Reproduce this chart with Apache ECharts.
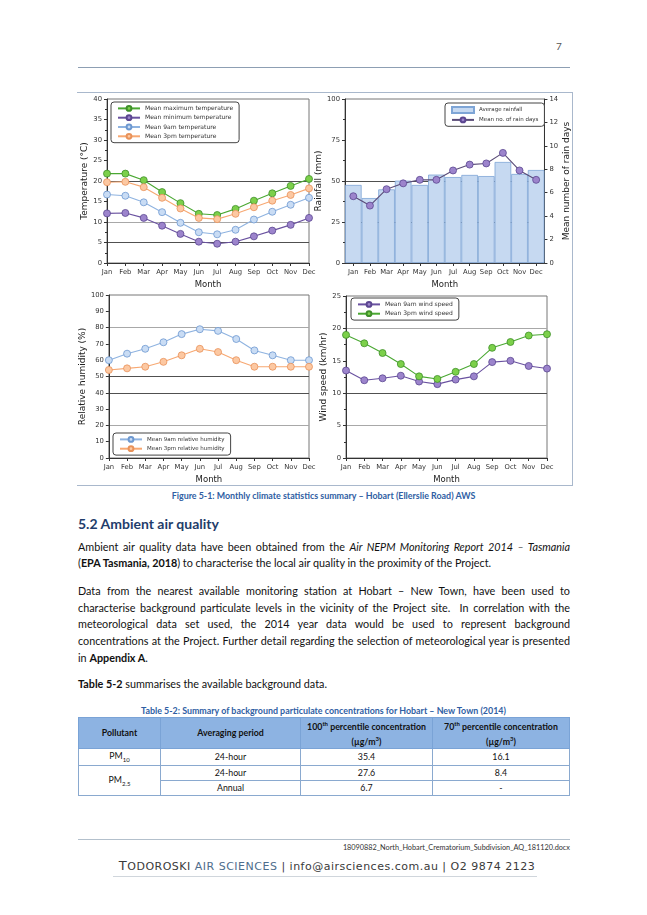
<!DOCTYPE html>
<html><head><meta charset="utf-8">
<script src="https://cdn.jsdelivr.net/npm/echarts@6/dist/echarts.min.js"></script>
<style>
body{margin:0;background:#fff;width:647px;height:915px;position:relative;overflow:hidden;font-family:Lato,"Liberation Sans",sans-serif;color:#111}
.abs{position:absolute}
.ln{position:absolute;left:78px;width:492px;font-size:10.8px;white-space:nowrap;text-align:justify;text-align-last:justify;line-height:14px}
.ln.last{text-align-last:left}
table{border-collapse:collapse;font-size:8.8px;table-layout:fixed;color:#111}
th{background:#8db3e2;font-weight:bold;border:1px solid #7aa3d6;padding:0;line-height:12px}
td{border:1px solid #8aa9cf;text-align:center;padding:0}
sub{font-size:6px}
</style></head><body>
<div class="abs" style="left:556px;top:40px;font-size:10px;color:#555">7</div>
<div class="abs" style="left:78px;top:67px;width:492px;height:1px;background:#8d9fb3"></div>
<div class="abs" style="left:77px;top:92px;width:494px;height:392px;border:1px solid #a9b8cc"></div>
<div id="chart" class="abs" style="left:77px;top:93px;width:495px;height:392px"></div>
<div class="abs" style="left:0;top:490px;width:647px;text-align:center;font-size:8.9px;font-weight:bold;color:#2f5ea3">Figure 5-1: Monthly climate statistics summary – Hobart (Ellerslie Road) AWS</div>
<div class="abs" style="left:78px;top:515px;font-size:14px;font-weight:bold;color:#1f3d6b">5.2 Ambient air quality</div>
<div class="ln" style="top:540px">Ambient air quality data have been obtained from the <i>Air NEPM Monitoring Report 2014 – Tasmania</i></div>
<div class="ln last" style="top:556px">(<b>EPA Tasmania, 2018</b>) to characterise the local air quality in the proximity of the Project.</div>
<div class="ln" style="top:584px">Data from the nearest available monitoring station at Hobart – New Town, have been used to</div>
<div class="ln" style="top:601px">characterise background particulate levels in the vicinity of the Project site.&nbsp; In correlation with the</div>
<div class="ln" style="top:617px">meteorological data set used, the 2014 year data would be used to represent background</div>
<div class="ln" style="top:634px">concentrations at the Project. Further detail regarding the selection of meteorological year is presented</div>
<div class="ln last" style="top:651px">in <b>Appendix A</b>.</div>
<div class="ln last" style="top:677px"><b>Table 5-2</b> summarises the available background data.</div>
<div class="abs" style="left:0;top:705px;width:647px;text-align:center;font-size:8.9px;font-weight:bold;color:#2f5ea3">Table 5-2: Summary of background particulate concentrations for Hobart – New Town (2014)</div>
<table class="abs" id="tbl" style="left:78px;top:717px;width:491px">
<colgroup><col style="width:82px"><col style="width:140px"><col style="width:132px"><col style="width:137px"></colgroup>
<thead><tr style="height:26px"><th>Pollutant</th><th>Averaging period</th><th>100<sup style="font-size:6px">th</sup> percentile concentration<br>(µg/m<sup style="font-size:6px">3</sup>)</th><th>70<sup style="font-size:6px">th</sup> percentile concentration<br>(µg/m<sup style="font-size:6px">3</sup>)</th></tr></thead>
<tbody id="tb"></tbody></table>
<div class="abs" style="left:78px;top:839px;width:492px;height:1px;background:#b3c0cc"></div>
<div class="abs" style="left:78px;top:843px;width:492px;text-align:right;font-size:7.3px;color:#333">18090882_North_Hobart_Crematorium_Subdivision_AQ_181120.docx</div>
<div class="abs" style="left:115px;top:858px;width:424px;text-align:center;font-family:'DejaVu Sans';font-size:11px;color:#3a3a3a;letter-spacing:0.5px;white-space:nowrap"><span style="font-size:13px">T</span>ODOROSKI <span style="color:#4f6d8c">AIR SCIENCES</span> | info@airsciences.com.au | O2 9874 2123</div>
<div class="abs" style="left:113px;top:876px;width:424px;height:1px;background:#d0d6dc"></div>
<script>
const months = ['Jan','Feb','Mar','Apr','May','Jun','Jul','Aug','Sep','Oct','Nov','Dec'];
const tempMax = [21.8,21.8,20.2,17.3,14.6,12.0,11.7,13.2,15.2,17.0,18.8,20.5];
const tempMin = [12.1,12.2,11.0,9.1,7.1,5.2,4.7,5.2,6.5,7.9,9.3,11.0];
const temp9am = [16.7,16.4,14.8,12.4,9.8,7.5,7.0,8.1,10.6,12.5,14.2,15.9];
const temp3pm = [19.7,19.8,18.5,15.9,13.3,11.0,10.7,12.0,13.6,15.2,16.6,18.2];
const rainfall = [47.6,39.6,44.9,50.2,47.6,53.9,52.4,53.7,53.0,61.6,54.3,56.7];
const rainDays = [5.7,4.9,6.3,6.8,7.1,7.1,7.9,8.4,8.5,9.4,7.9,7.1];
const rh9am = [60,64,67,71,76,79,78,73,66,63,60,60];
const rh3pm = [54,55,56,59,63,67,65,60,56,56,56,56];
const wind9am = [13.5,12.0,12.3,12.7,11.8,11.4,12.1,12.6,14.8,15.0,14.2,13.8];
const wind3pm = [19.0,17.7,16.2,14.5,12.6,12.2,13.3,14.5,17.0,17.9,18.9,19.1];
const tableRows = [['PM<sub>10</sub>','24-hour','35.4','16.1'],['PM<sub>2.5</sub>','24-hour','27.6','8.4'],['','Annual','6.7','-']];

// table
const tb = document.getElementById('tb');
const rowH = [17,15,15];
tableRows.forEach((r,i)=>{
  const tr = document.createElement('tr'); tr.style.height = rowH[i]+'px';
  r.forEach((c,j)=>{
    if(i===2 && j===0) return;
    const td = document.createElement('td'); td.innerHTML = c;
    if(i===1 && j===0) td.rowSpan = 2;
    tr.appendChild(td);
  });
  tb.appendChild(tr);
});

const T='rgba(0,0,0,0)', D='#505050', L='#a8a8a8';
const FF = 'DejaVu Sans';
const lab = {fontSize:6.8, color:'#333', fontFamily:FF};
const nameStyle = {fontSize:9, color:'#222', fontFamily:FF};
function xAxis(gi, gap){
  return {type:'category', gridIndex:gi, data:months, boundaryGap:gap,
    axisLine:{show:true,lineStyle:{color:'#333',width:1}},
    axisTick:{show:true,length:3,alignWithLabel:true,lineStyle:{color:'#333'}},
    axisLabel:{...lab, margin:6, interval:0},
    name:'Month', nameLocation:'middle', nameGap:17, nameTextStyle:{fontSize:8.5,color:'#222',fontFamily:FF},
    splitLine:{show:false}};
}
function yAxis(gi, max, interval, name, gap, colors, extra){
  return Object.assign({type:'value', gridIndex:gi, min:0, max:max, interval:interval,
    axisLine:{show:true,lineStyle:{color:'#333'}},
    axisTick:{show:true,length:3,lineStyle:{color:'#333'}},
    minorTick:{show:true,splitNumber:2,length:2,lineStyle:{color:'#333'}},
    axisLabel:{...lab, margin:5},
    name:name, nameLocation:'middle', nameGap:gap, nameTextStyle:nameStyle,
    splitLine:{show:true,lineStyle:{color:colors,width:1}}}, extra||{});
}
function line(name, data, xi, yi, lineColor, fill, edge){
  return {type:'line', name:name, data:data, xAxisIndex:xi, yAxisIndex:yi,
    symbol:'circle', symbolSize:7,
    lineStyle:{color:lineColor,width:1.1},
    itemStyle:{color:fill,borderColor:edge,borderWidth:0.8}, z:5};
}
const legendBase = {orient:'vertical', borderColor:'#444', borderWidth:1, borderRadius:3,
  padding:[3,6,3,6], itemGap:2.5, itemWidth:22, itemHeight:6,
  backgroundColor:'#fff', textStyle:{fontSize:6, color:'#333', fontFamily:FF}, selectedMode:false};

const GREEN=['#4aa832','#7cd04a','#3f8f2a'], PURPLE=['#6a52a0','#9c84cc','#5b4690'],
      BLUE=['#8fb3e0','#c9dcf4','#6d98d0'], ORANGE=['#f7a872','#fcc8a2','#e8925a'];

const chart = echarts.init(document.getElementById('chart'), null, {renderer:'canvas'});
chart.setOption({
  animation:false,
  backgroundColor:'#fff',
  grid:[
    {left:30, top:6, width:202, height:164, show:true, borderColor:'#777', borderWidth:1, backgroundColor:'transparent'},
    {left:268, top:6, width:200, height:164, show:true, borderColor:'#777', borderWidth:1, backgroundColor:'transparent'},
    {left:30, top:202, width:202, height:164, show:true, borderColor:'#777', borderWidth:1, backgroundColor:'transparent'},
    {left:269, top:203, width:201, height:163, show:true, borderColor:'#777', borderWidth:1, backgroundColor:'transparent'}
  ],
  xAxis:[xAxis(0,false), xAxis(1,true), xAxis(2,false), xAxis(3,false)],
  yAxis:[
    yAxis(0,40,5,'Temperature (°C)',13,[T,D,L,T,D,T,T,T,T]),
    yAxis(1,100,25,'Rainfall (mm)',16,[T,D,D,T,T]),
    yAxis(1,14,2,'Mean number of rain days',17,[T],{position:'right',splitLine:{show:false},minorTick:{show:false}}),
    yAxis(2,100,10,'Relative humidity (%)',15,[T,T,L,T,D,D,T,T,L,T,T],{minorTick:{show:false}}),
    yAxis(3,25,5,'Wind speed (km/hr)',14,[T,L,D,T,L,T])
  ],
  legend:[
    Object.assign({}, legendBase, {left:34, top:9, data:['Mean maximum temperature','Mean minimum temperature','Mean 9am temperature','Mean 3pm temperature']}),
    Object.assign({}, legendBase, {left:368, top:10, textStyle:{fontSize:5.5,color:'#333',fontFamily:FF}, data:[{name:'Average rainfall',icon:'rect'},'Mean no. of rain days']}),
    Object.assign({}, legendBase, {left:36, top:340, textStyle:{fontSize:5.5,color:'#333',fontFamily:FF}, data:['Mean 9am relative humidity','Mean 3pm relative humidity']}),
    Object.assign({}, legendBase, {left:274, top:205, data:['Mean 9am wind speed','Mean 3pm wind speed']})
  ],
  series:[
    line('Mean maximum temperature', tempMax, 0, 0, ...GREEN),
    line('Mean minimum temperature', tempMin, 0, 0, ...PURPLE),
    line('Mean 9am temperature', temp9am, 0, 0, ...BLUE),
    line('Mean 3pm temperature', temp3pm, 0, 0, ...ORANGE),
    {type:'bar', name:'Average rainfall', data:rainfall, xAxisIndex:1, yAxisIndex:1, barCategoryGap:'0%',
      itemStyle:{color:'#c6d9f1', borderColor:'#7ea5d6', borderWidth:0.8}, z:1},
    line('Mean no. of rain days', rainDays, 1, 2, '#5a4c78', '#9c84cc', '#5b4690'),
    line('Mean 9am relative humidity', rh9am, 2, 3, ...BLUE),
    line('Mean 3pm relative humidity', rh3pm, 2, 3, ...ORANGE),
    line('Mean 9am wind speed', wind9am, 3, 4, ...PURPLE),
    line('Mean 3pm wind speed', wind3pm, 3, 4, ...GREEN)
  ]
});
</script>
</body></html>
